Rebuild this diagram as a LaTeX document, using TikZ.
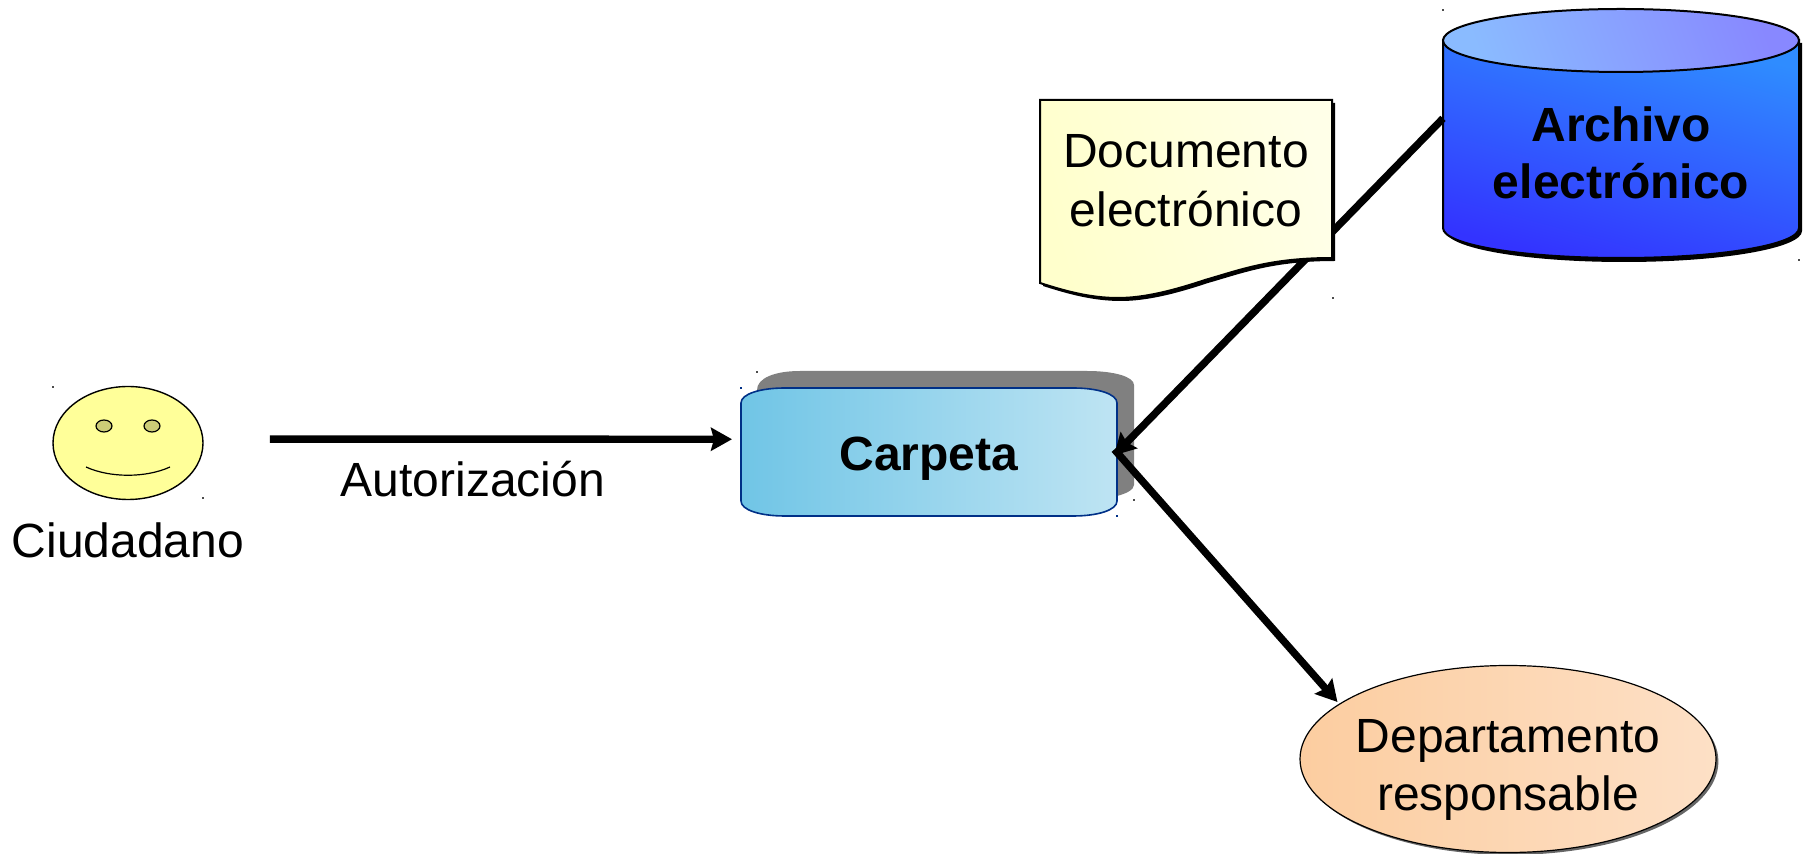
\documentclass[tikz,border=0pt]{standalone}
\usepackage{fontspec}
\setmainfont{Liberation Sans}
\usetikzlibrary{arrows.meta,shapes.geometric,shadows}
\definecolor{carafill}{HTML}{FFFF99}
\definecolor{ojofill}{HTML}{CCCC77}
\definecolor{carpetaline}{HTML}{003087}
\definecolor{carpetaleft}{HTML}{70C5E6}
\definecolor{carpetaright}{HTML}{BEE4F3}
\definecolor{docleft}{HTML}{FFFFCC}
\definecolor{docright}{HTML}{FFFFE8}
\definecolor{bodytop}{HTML}{2F8CFF}
\definecolor{bodybottom}{HTML}{3333FF}
\definecolor{tapeleft}{HTML}{8ABBFF}
\definecolor{taperight}{HTML}{8888FF}
\definecolor{deptoleft}{HTML}{FCCDA0}
\definecolor{deptoright}{HTML}{FDE0C6}
\begin{document}
\begin{tikzpicture}[x=0.5pt,y=-0.5pt]
\tikzstyle{texto}=[font=\fontsize{24}{29.3}\selectfont,align=center,inner sep=0pt,outer sep=0pt]
\tikzstyle{negrita}=[texto,font=\fontsize{24}{28.5}\selectfont\bfseries]
\tikzstyle{flecha}=[line width=3.7pt,black,-{Stealth[length=10.5pt,width=11.5pt,inset=1.5pt]}]
\tikzstyle{speck}=[fill,minimum size=1.2pt,inner sep=0pt]
\useasboundingbox (0,0) rectangle (1803,854);
\node[ellipse,draw=black,line width=0.7pt,fill=carafill,minimum width=75pt,minimum height=56.5pt,inner sep=0pt,outer sep=0pt] (cara) at (128,443) {};
\draw[line width=0.6pt,fill=ojofill] (104,426) ellipse [x radius=8,y radius=6];
\draw[line width=0.6pt,fill=ojofill] (152,426) ellipse [x radius=8,y radius=6];
\draw[line width=0.6pt] (86,467) .. controls (110,478) and (146,478) .. (170,467);
\node[texto] (ciudadano) at (128,540) {Ciudadano};
\node[texto] (autorizacion) at (473,479) {Autorización};
\fill[black!50] (757,390) .. controls (757,378) and (775,371) .. (800,371) -- (1087,371) .. controls (1115,371) and (1134,377) .. (1134,385) -- (1134,485) .. controls (1134,490) and (1125,494) .. (1117,496) -- (757,496) -- cycle;
\draw[line width=0.8pt,draw=carpetaline,left color=carpetaleft,right color=carpetaright] (741,403) .. controls (741,394) and (760,388) .. (785,388) -- (1073,388) .. controls (1098,388) and (1117,394) .. (1117,403) -- (1117,501) .. controls (1117,510) and (1098,516) .. (1073,516) -- (785,516) .. controls (760,516) and (741,510) .. (741,501) -- cycle;
\node[negrita,minimum width=188pt,minimum height=50pt] (carpeta) at (929,459) {Carpeta};
\fill[black] (1446,43) -- (1446,231) .. controls (1446,248) and (1525,262) .. (1624,262) .. controls (1723,262) and (1802,248) .. (1802,231) -- (1802,43) -- cycle;
\draw[line width=1pt,top color=bodytop,bottom color=bodybottom,shading angle=-15] (1443,40) -- (1443,228) .. controls (1443,245) and (1522,258) .. (1621,258) .. controls (1720,258) and (1799,245) .. (1799,228) -- (1799,40) -- cycle;
\draw[line width=1pt,left color=tapeleft,right color=taperight,shading angle=110] (1443,40.5) .. controls (1443,23) and (1523,9) .. (1621,9) .. controls (1719,9) and (1799,23) .. (1799,40.5) .. controls (1799,58) and (1719,72) .. (1621,72) .. controls (1523,72) and (1443,58) .. (1443,40.5) -- cycle;
\node[negrita,minimum width=178pt,minimum height=107pt] (archivo) at (1621,153) {Archivo\\electrónico};
\node[ellipse,draw=black,line width=0.6pt,left color=deptoleft,right color=deptoright,minimum width=208pt,minimum height=93.5pt,inner sep=0pt,outer sep=0pt,drop shadow={shadow xshift=1.2pt,shadow yshift=-1.2pt,fill=black!60,opacity=1}] (depto) at (1508,759) {};
\node[texto] (deptotexto) at (1508,770) {Departamento\\responsable};
\draw[flecha,shorten >=-2pt] (archivo.169.6) -- (carpeta.2);
\draw[flecha,shorten <=-2pt,shorten >=1.5pt] (carpeta.2) -- (depto.162);
\draw[flecha,shorten <=33.5pt,shorten >=4.5pt] (cara.3) -- (carpeta.174);
\fill[black] (1043,103) -- (1335,103) -- (1335,261) .. controls (1273,261) and (1243,273) .. (1208,283) .. controls (1178,293) and (1148,301) .. (1121,301) .. controls (1093,301) and (1068,294) .. (1043,286) -- cycle;
\draw[line width=1pt,left color=docleft,right color=docright,shading angle=105] (1040,100) -- (1332,100) -- (1332,258) .. controls (1270,258) and (1240,270) .. (1205,280) .. controls (1175,290) and (1145,298) .. (1118,298) .. controls (1090,298) and (1065,291) .. (1040,283) -- cycle;
\node[texto,minimum width=146pt,minimum height=80pt] (documento) at (1186,181) {Documento\\electrónico};
\foreach \sx/\sy in {53/387,203/498,1443/10,1799/260,1333/298,757/372,1134/500}
\node[speck,black!70] at (\sx,\sy) {};
\foreach \sx/\sy in {741/388,1117/516}
\node[speck,carpetaline] at (\sx,\sy) {};
\end{tikzpicture}
\end{document}
